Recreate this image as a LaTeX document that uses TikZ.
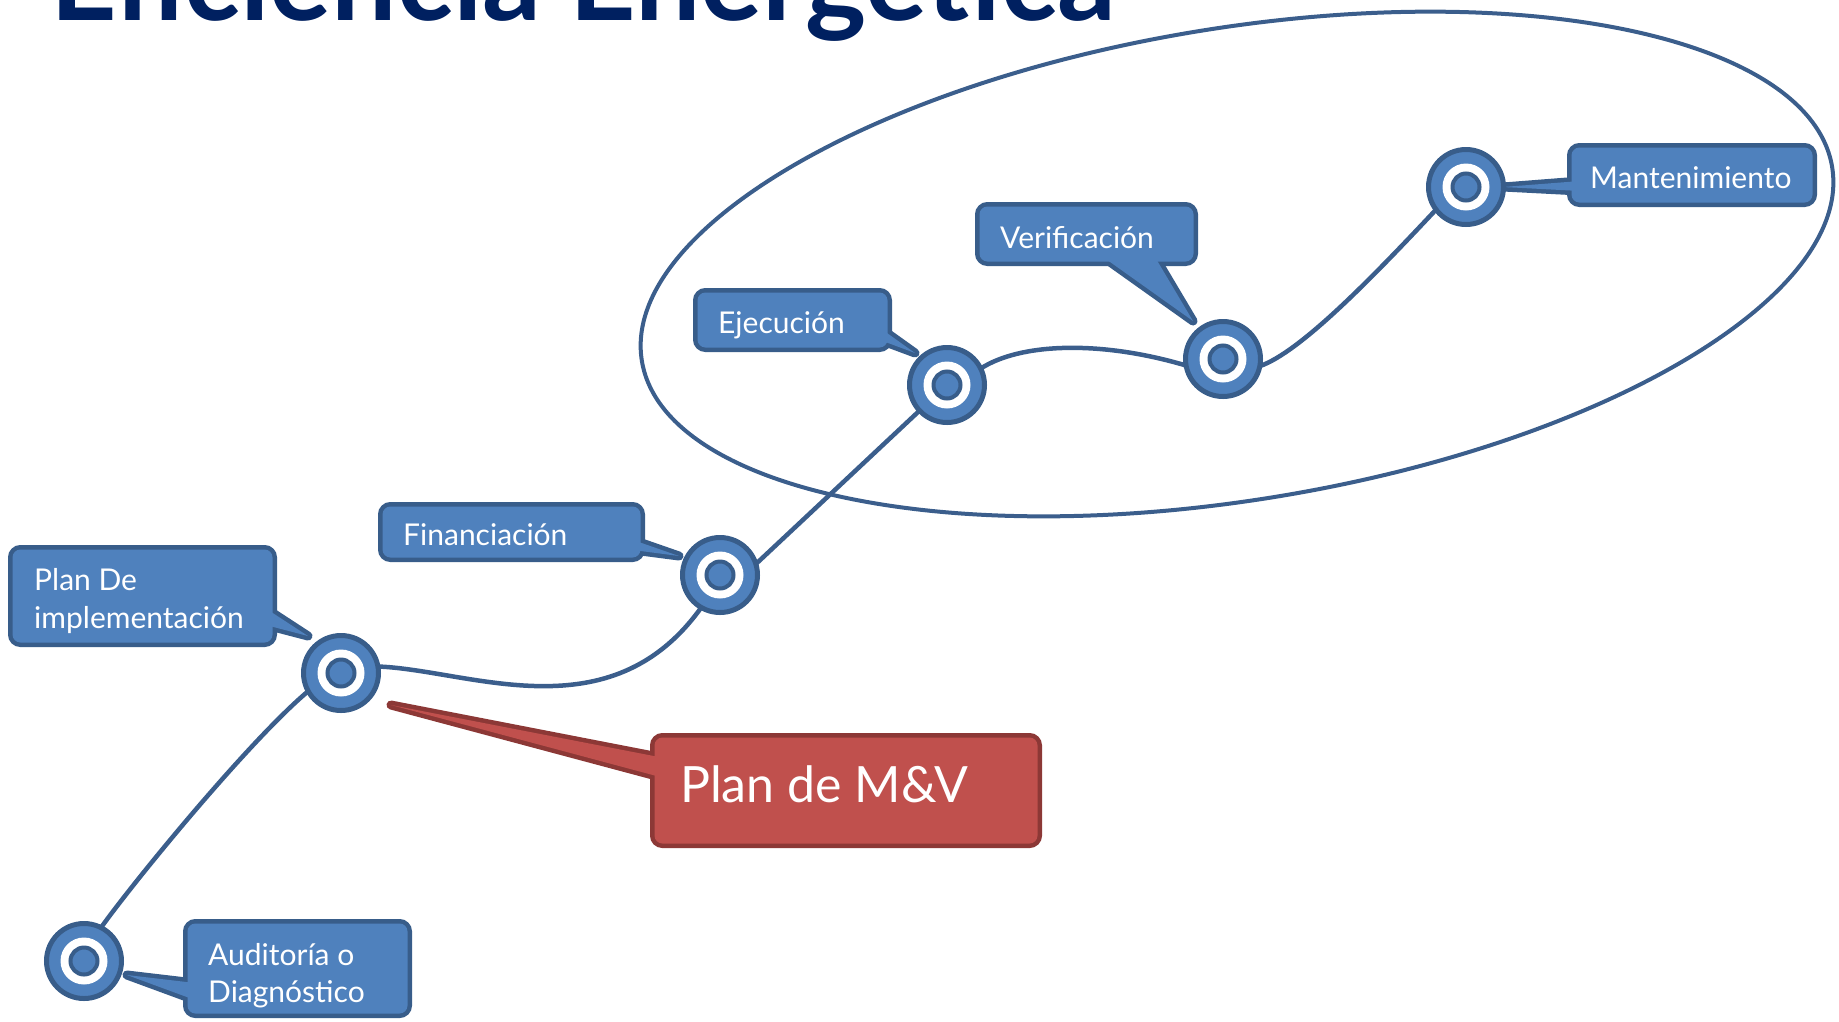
\documentclass[tikz,border=0pt]{standalone}
\usepackage{fontspec}
\setmainfont{Lato}
\usetikzlibrary{backgrounds,calc}
\definecolor{bfill}{HTML}{4F81BD}
\definecolor{bline}{HTML}{385D8A}
\definecolor{cline}{HTML}{3B5E8C}
\definecolor{rfill}{HTML}{C0504D}
\definecolor{rline}{HTML}{8C3836}
\definecolor{navy}{HTML}{002060}
\newcommand\mycallout[6]{%
  \path[draw=#5, line width=9pt, rounded corners=8pt] (#1.north west) rectangle (#1.south east);
  \path[draw=#5, line width=9pt, line join=round] #2 -- #4 -- #3 -- cycle;
  \path[fill=#6, rounded corners=8pt] (#1.north west) rectangle (#1.south east);
  \path[fill=#6] #2 -- #4 -- #3 -- cycle;
}
\begin{document}
\begin{tikzpicture}[x=1pt,y=-1pt,
  stage/.style={circle, draw=bline, fill=bfill, line width=5pt, minimum size=75pt, inner sep=0pt, outer sep=0pt},
  conn/.style={draw=cline, line width=4.5pt},
  cbox/.style={rectangle, inner sep=0pt, outer sep=0pt},
  lbl/.style={text=white, font=\fontsize{30}{36}\selectfont, inner sep=0pt, anchor=base west},
  biglbl/.style={text=white, font=\fontsize{50}{60}\selectfont, inner sep=0pt, anchor=base west},
  ttl/.style={text=navy, font=\fontsize{116}{134}\selectfont\bfseries, inner sep=0pt, anchor=base west}]
\useasboundingbox (0,0) rectangle (1839,1021);

% title
\node[ttl] (title) at (50,20) {Eficiencia Energética};

% stages
\node[stage] (n1) at (84,961) {};
\node[stage] (n2) at (341,673) {};
\node[stage] (n3) at (720,575) {};
\node[stage] (n4) at (947,385) {};
\node[stage] (n5) at (1223,359) {};
\node[stage] (n6) at (1466,187) {};
\foreach \n in {n1,n2,n3,n4,n5,n6}{
  \fill[white] (\n) circle (23.5pt);
  \filldraw[fill=bfill, draw=bline, line width=4pt] (\n) circle (13.5pt);
}

% callout boxes (geometry) and texts
\node[cbox, minimum width=220pt, minimum height=90pt] (b1) at (297.5,968.5) {};
\node[lbl] (t1a) at (208,965) {Auditoría o};
\node[lbl] (t1b) at (208,1002) {Diagnóstico};

\node[cbox, minimum width=260pt, minimum height=93pt] (b2) at (142.5,596) {};
\node[lbl] (t2a) at (34,590) {Plan De};
\node[lbl] (t2b) at (34,628) {implementación};

\node[cbox, minimum width=258pt, minimum height=51pt] (b3) at (511.5,532) {};
\node[lbl] (t3) at (403,545) {Financiación};

\node[cbox, minimum width=190pt, minimum height=55pt] (b4) at (792.5,320) {};
\node[lbl] (t4) at (718,333) {Ejecución};

\node[cbox, minimum width=214pt, minimum height=55pt] (b5) at (1086.5,234) {};
\node[lbl] (t5) at (1000,248) {Verificación};

\node[cbox, minimum width=241pt, minimum height=55pt] (b6) at (1692,175) {};
\node[lbl] (t6) at (1590,188) {Mantenimiento};

\node[cbox, minimum width=383pt, minimum height=106pt] (b7) at (846,790.5) {};
\node[biglbl] (t7) at (680,802) {Plan de M\&V};

\begin{pgfonlayer}{background}
  % ellipse
  \draw[cline, line width=4pt, rotate around={9.25:(1237,264)}] (1237,264) ellipse [x radius=603pt, y radius=236pt];
  % connectors
  \draw[conn] (n1.63) .. controls (135,880) and (250,740) .. (n2.209);
  \draw[conn] (n2.10) .. controls (470,670) and (610,735) .. (n3.240);
  \draw[conn] (n3.17) -- (n4.223);
  \draw[conn] (n4.26) .. controls (1020,343) and (1100,340) .. (n5.190);
  \draw[conn] (n5.349) .. controls (1300,352) and (1370,280) .. (n6.217);
  % callouts
  \mycallout{b1}{(195,983)}{(195,1000)}{(127,975)}{bline}{bfill}
  \mycallout{b2}{(262,606)}{(262,624)}{(308,636)}{bline}{bfill}
  \mycallout{b3}{(633,540)}{(633,550)}{(679,556)}{bline}{bfill}
  \mycallout{b4}{(880,328)}{(880,340)}{(915,353)}{bline}{bfill}
  \mycallout{b5}{(1096,252)}{(1152,252)}{(1193,321)}{bline}{bfill}
  \mycallout{b6}{(1580,181)}{(1580,191)}{(1503,187)}{bline}{bfill}
  \mycallout{b7}{(664,758)}{(664,778)}{(391,705)}{rline}{rfill}
\end{pgfonlayer}
\end{tikzpicture}
\end{document}
